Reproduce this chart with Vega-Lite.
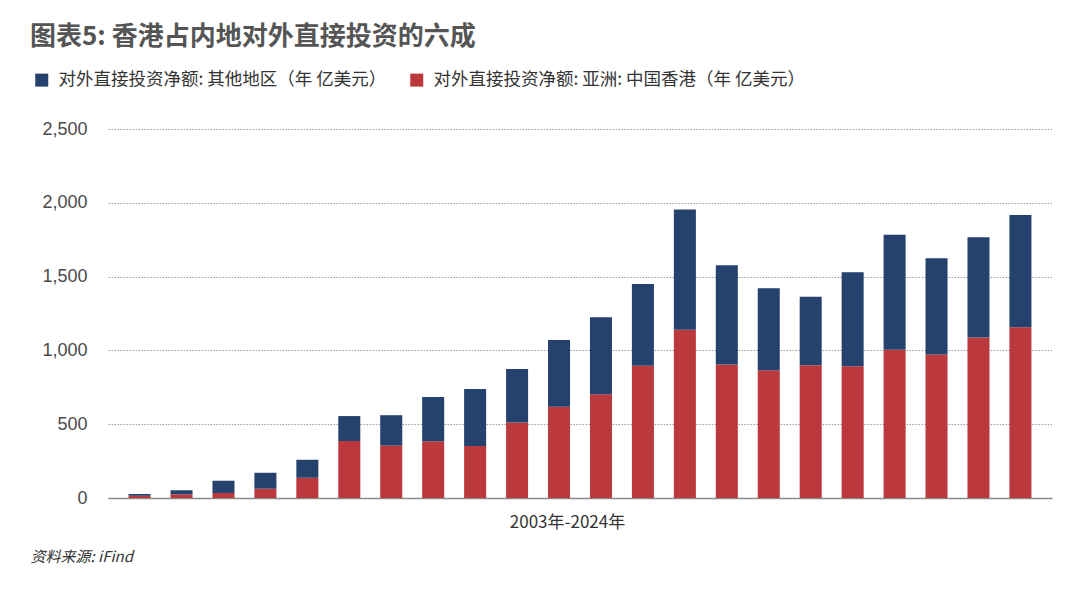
{
  "$schema": "https://vega.github.io/schema/vega-lite/v6.json",
  "width": 944,
  "height": 369,
  "autosize": {"type": "none"},
  "padding": {"left": 108, "top": 129, "right": 28, "bottom": 95},
  "background": "white",
  "title": {
    "text": "图表5: 香港占内地对外直接投资的六成",
    "anchor": "start",
    "frame": "group",
    "orient": "top",
    "dx": -78,
    "offset": 21,
    "font": "Noto Sans CJK SC",
    "fontSize": 26,
    "fontWeight": "bold",
    "color": "#555555"
  },
  "data": {
    "values": [
      {"year": "2003", "series": "对外直接投资净额: 亚洲: 中国香港（年 亿美元）", "value": 15, "ord": 1},
      {"year": "2003", "series": "对外直接投资净额: 其他地区（年 亿美元）", "value": 12, "ord": 2},
      {"year": "2004", "series": "对外直接投资净额: 亚洲: 中国香港（年 亿美元）", "value": 25, "ord": 1},
      {"year": "2004", "series": "对外直接投资净额: 其他地区（年 亿美元）", "value": 27, "ord": 2},
      {"year": "2005", "series": "对外直接投资净额: 亚洲: 中国香港（年 亿美元）", "value": 34, "ord": 1},
      {"year": "2005", "series": "对外直接投资净额: 其他地区（年 亿美元）", "value": 83, "ord": 2},
      {"year": "2006", "series": "对外直接投资净额: 亚洲: 中国香港（年 亿美元）", "value": 63, "ord": 1},
      {"year": "2006", "series": "对外直接投资净额: 其他地区（年 亿美元）", "value": 108, "ord": 2},
      {"year": "2007", "series": "对外直接投资净额: 亚洲: 中国香港（年 亿美元）", "value": 137, "ord": 1},
      {"year": "2007", "series": "对外直接投资净额: 其他地区（年 亿美元）", "value": 122, "ord": 2},
      {"year": "2008", "series": "对外直接投资净额: 亚洲: 中国香港（年 亿美元）", "value": 386, "ord": 1},
      {"year": "2008", "series": "对外直接投资净额: 其他地区（年 亿美元）", "value": 169, "ord": 2},
      {"year": "2009", "series": "对外直接投资净额: 亚洲: 中国香港（年 亿美元）", "value": 355, "ord": 1},
      {"year": "2009", "series": "对外直接投资净额: 其他地区（年 亿美元）", "value": 206, "ord": 2},
      {"year": "2010", "series": "对外直接投资净额: 亚洲: 中国香港（年 亿美元）", "value": 385, "ord": 1},
      {"year": "2010", "series": "对外直接投资净额: 其他地区（年 亿美元）", "value": 300, "ord": 2},
      {"year": "2011", "series": "对外直接投资净额: 亚洲: 中国香港（年 亿美元）", "value": 353, "ord": 1},
      {"year": "2011", "series": "对外直接投资净额: 其他地区（年 亿美元）", "value": 386, "ord": 2},
      {"year": "2012", "series": "对外直接投资净额: 亚洲: 中国香港（年 亿美元）", "value": 511, "ord": 1},
      {"year": "2012", "series": "对外直接投资净额: 其他地区（年 亿美元）", "value": 363, "ord": 2},
      {"year": "2013", "series": "对外直接投资净额: 亚洲: 中国香港（年 亿美元）", "value": 619, "ord": 1},
      {"year": "2013", "series": "对外直接投资净额: 其他地区（年 亿美元）", "value": 451, "ord": 2},
      {"year": "2014", "series": "对外直接投资净额: 亚洲: 中国香港（年 亿美元）", "value": 703, "ord": 1},
      {"year": "2014", "series": "对外直接投资净额: 其他地区（年 亿美元）", "value": 522, "ord": 2},
      {"year": "2015", "series": "对外直接投资净额: 亚洲: 中国香港（年 亿美元）", "value": 896, "ord": 1},
      {"year": "2015", "series": "对外直接投资净额: 其他地区（年 亿美元）", "value": 554, "ord": 2},
      {"year": "2016", "series": "对外直接投资净额: 亚洲: 中国香港（年 亿美元）", "value": 1140, "ord": 1},
      {"year": "2016", "series": "对外直接投资净额: 其他地区（年 亿美元）", "value": 815, "ord": 2},
      {"year": "2017", "series": "对外直接投资净额: 亚洲: 中国香港（年 亿美元）", "value": 905, "ord": 1},
      {"year": "2017", "series": "对外直接投资净额: 其他地区（年 亿美元）", "value": 672, "ord": 2},
      {"year": "2018", "series": "对外直接投资净额: 亚洲: 中国香港（年 亿美元）", "value": 865, "ord": 1},
      {"year": "2018", "series": "对外直接投资净额: 其他地区（年 亿美元）", "value": 556, "ord": 2},
      {"year": "2019", "series": "对外直接投资净额: 亚洲: 中国香港（年 亿美元）", "value": 899, "ord": 1},
      {"year": "2019", "series": "对外直接投资净额: 其他地区（年 亿美元）", "value": 464, "ord": 2},
      {"year": "2020", "series": "对外直接投资净额: 亚洲: 中国香港（年 亿美元）", "value": 892, "ord": 1},
      {"year": "2020", "series": "对外直接投资净额: 其他地区（年 亿美元）", "value": 637, "ord": 2},
      {"year": "2021", "series": "对外直接投资净额: 亚洲: 中国香港（年 亿美元）", "value": 1005, "ord": 1},
      {"year": "2021", "series": "对外直接投资净额: 其他地区（年 亿美元）", "value": 779, "ord": 2},
      {"year": "2022", "series": "对外直接投资净额: 亚洲: 中国香港（年 亿美元）", "value": 973, "ord": 1},
      {"year": "2022", "series": "对外直接投资净额: 其他地区（年 亿美元）", "value": 651, "ord": 2},
      {"year": "2023", "series": "对外直接投资净额: 亚洲: 中国香港（年 亿美元）", "value": 1088, "ord": 1},
      {"year": "2023", "series": "对外直接投资净额: 其他地区（年 亿美元）", "value": 678, "ord": 2},
      {"year": "2024", "series": "对外直接投资净额: 亚洲: 中国香港（年 亿美元）", "value": 1157, "ord": 1},
      {"year": "2024", "series": "对外直接投资净额: 其他地区（年 亿美元）", "value": 760, "ord": 2}
    ]
  },
  "mark": {"type": "bar"},
  "encoding": {
    "x": {
      "field": "year",
      "type": "ordinal",
      "scale": {"paddingInner": 0.475, "paddingOuter": 0.49},
      "axis": {
        "title": "2003年-2024年",
        "labels": false,
        "ticks": false,
        "domain": true,
        "domainColor": "#8a8a8a",
        "domainWidth": 1.5,
        "titleFont": "Noto Sans CJK SC",
        "titleFontSize": 17,
        "titleFontWeight": "normal",
        "titleColor": "#333333",
        "titlePadding": 16,
        "titleX": 459
      }
    },
    "y": {
      "field": "value",
      "type": "quantitative",
      "stack": "zero",
      "scale": {"domain": [0, 2500], "nice": false},
      "axis": {
        "values": [0, 500, 1000, 1500, 2000, 2500],
        "format": ",d",
        "domain": false,
        "ticks": false,
        "grid": true,
        "gridColor": "#9a9a9a",
        "gridDash": [1.5, 1.5],
        "gridWidth": 1,
        "labelFont": "Liberation Sans",
        "labelFontSize": 18,
        "labelColor": "#4a4a4a",
        "labelPadding": 21,
        "title": "资料来源: iFind",
        "titleAngle": 0,
        "titleAlign": "left",
        "titleBaseline": "middle",
        "titleX": -78,
        "titleY": 427,
        "titleFont": "Noto Sans CJK SC",
        "titleFontSize": 15,
        "titleFontStyle": "italic",
        "titleFontWeight": "normal",
        "titleColor": "#333333"
      }
    },
    "color": {
      "field": "series",
      "type": "nominal",
      "scale": {
        "domain": ["对外直接投资净额: 其他地区（年 亿美元）", "对外直接投资净额: 亚洲: 中国香港（年 亿美元）"],
        "range": ["#25426e", "#bb393c"]
      },
      "legend": {
        "title": null,
        "orient": "none",
        "legendX": -75,
        "legendY": -58,
        "direction": "horizontal",
        "symbolType": "square",
        "symbolSize": 169,
        "symbolStrokeWidth": 0,
        "symbolOpacity": 1,
        "labelFont": "Noto Sans CJK SC",
        "labelFontSize": 17.5,
        "labelColor": "#333333",
        "labelOffset": 8,
        "labelLimit": 600,
        "columnPadding": 21,
        "padding": 0
      }
    },
    "order": {"field": "ord", "type": "quantitative"}
  },
  "config": {
    "view": {"stroke": null},
    "axis": {"gridCap": "butt"}
  }
}
